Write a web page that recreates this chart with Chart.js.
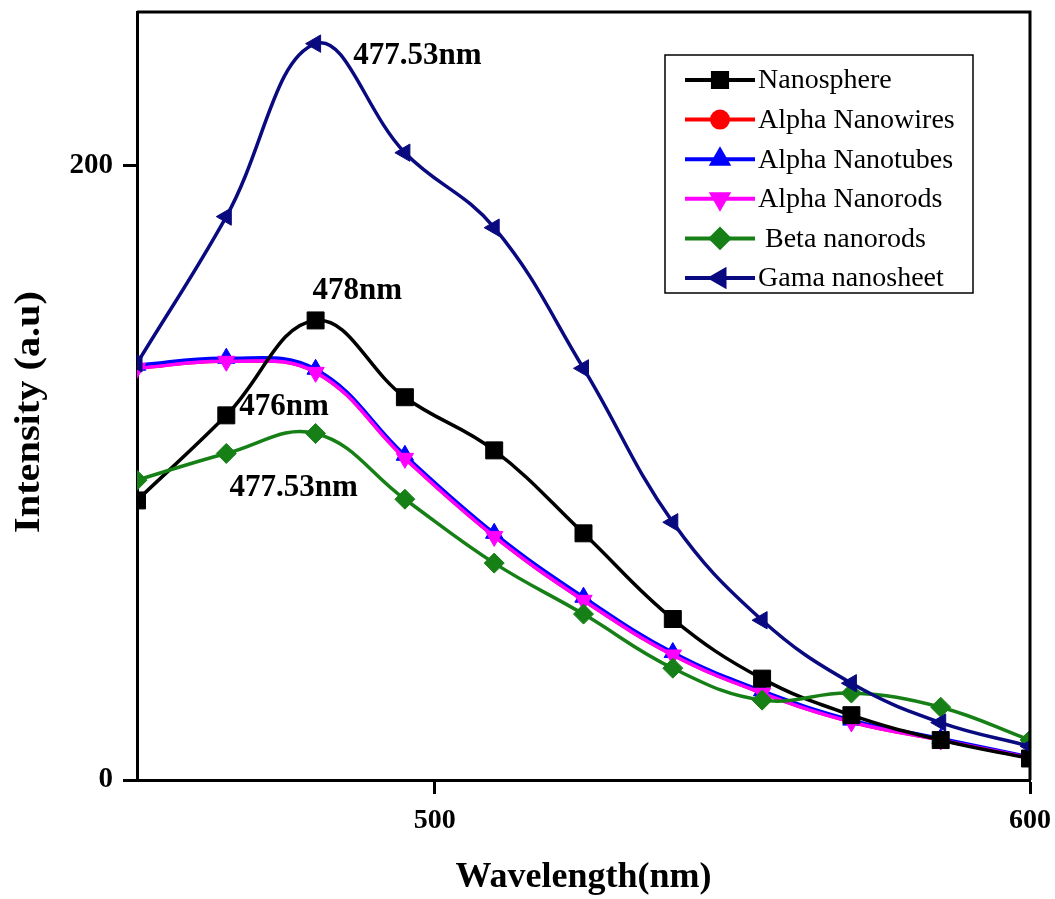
<!DOCTYPE html>
<html>
<head>
<meta charset="utf-8">
<title>PL spectra</title>
<script src="https://cdn.jsdelivr.net/npm/chart.js@4.4.0/dist/chart.umd.min.js"></script>
<style>
  html, body { margin: 0; padding: 0; background: #fff; }
  #wrap { width: 1055px; height: 899px; }
</style>
</head>
<body>
<div id="wrap"><canvas id="plChart" width="1055" height="899"></canvas></div>
<script>
// Wavelength grid (nm)
const wavelength = [450, 465, 480, 495, 510, 525, 540, 555, 570, 585, 600];

// Intensity (a.u) per sample
const nanosphere     = [91, 118.7, 149.6, 124.6, 107.3, 80.3, 52.4, 33.0, 21.1, 13.0, 7.0];
const alphaNanowires = [134, 136.3, 132.7, 104.7, 79.3, 58.5, 40.7, 28.3, 18.9, 13.0, 7.2];
const alphaNanotubes = [135, 137.3, 133.7, 105.7, 80.3, 59.5, 41.5, 29.0, 19.5, 13.5, 7.5];
const alphaNanorods  = [134, 136.3, 132.7, 104.7, 79.3, 58.5, 40.7, 28.3, 18.9, 13.0, 7.2];
const betaNanorods   = [97.6, 106.3, 112.8, 91.4, 70.6, 54.0, 36.4, 26.0, 28.3, 23.7, 13.0];
const gamaNanosheet  = [135.6, 183.4, 239.7, 204.2, 179.8, 134.0, 83.9, 52.0, 31.5, 18.7, 11.0];

const seriesNames = ['Nanosphere', 'Alpha Nanowires', 'Alpha Nanotubes', 'Alpha Nanorods', ' Beta nanorods', 'Gama nanosheet'];

// Axis ticks
const xTicks = [500, 600];
const yTicks = [0, 200];

// Peak annotations (text, wavelength, intensity)
const peakText = ['477.53nm', '478nm', '476nm', '477.53nm'];
const peakX    = [497.1, 487.0, 474.7, 476.3];
const peakY    = [235.8, 159.3, 121.3, 95.0];

const SERIF = '"Liberation Serif", "Times New Roman", serif';

function toPoints(ys) {
    return ys.map((y, i) => ({ x: wavelength[i], y: y }));
}

const styles = [
    { color: '#000000', pointStyle: 'rect',     rotation: 0,   radius: 12, legendRadius: 10, order: 2 },
    { color: '#ff0000', pointStyle: 'circle',   rotation: 0,   radius: 4,  legendRadius: 8,  order: 5 },
    { color: '#0000ff', pointStyle: 'triangle', rotation: 0,   radius: 10, legendRadius: 9,  order: 4 },
    { color: '#ff00ff', pointStyle: 'triangle', rotation: 180, radius: 10, legendRadius: 9,  order: 3 },
    { color: '#168016', pointStyle: 'rectRot',  rotation: 0,   radius: 10, legendRadius: 9,  order: 1 },
    { color: '#0a0a80', pointStyle: 'triangle', rotation: -90, radius: 10, legendRadius: 9,  order: 0 }
];

const seriesData = [nanosphere, alphaNanowires, alphaNanotubes, alphaNanorods, betaNanorods, gamaNanosheet];

const datasets = seriesData.map((ys, i) => ({
    label: seriesNames[i],
    data: toPoints(ys),
    borderColor: styles[i].color,
    backgroundColor: styles[i].color,
    pointStyle: styles[i].pointStyle,
    pointRotation: styles[i].rotation,
    pointRadius: styles[i].radius,
    pointBorderWidth: 1,
    borderWidth: 3.5,
    tension: 0.4,
    clip: 0,
    order: styles[i].order
}));

// Closes the frame (top + right edges), draws the y title and peak labels
const framePlugin = {
    id: 'frame',
    afterDraw(chart) {
        const { ctx, chartArea: a, scales } = chart;
        ctx.save();
        ctx.strokeStyle = '#000';
        ctx.lineWidth = 3;
        ctx.beginPath();
        ctx.moveTo(a.left, a.top);
        ctx.lineTo(a.right, a.top);
        ctx.lineTo(a.right, a.bottom);
        ctx.stroke();

        ctx.fillStyle = '#000';
        ctx.textAlign = 'center';
        ctx.textBaseline = 'middle';

        // y axis title, stretched a little along the axis
        ctx.save();
        ctx.translate(30, 412);
        ctx.rotate(-Math.PI / 2);
        ctx.scale(1.12, 1);
        ctx.font = 'bold 36px ' + SERIF;
        ctx.fillText('Intensity (a.u)', 0, 0);
        ctx.restore();

        ctx.font = 'bold 31px ' + SERIF;
        peakText.forEach((t, i) => {
            ctx.fillText(t, scales.x.getPixelForValue(peakX[i]), scales.y.getPixelForValue(peakY[i]));
        });
        ctx.restore();
    }
};

// Boxed legend inside the plot area
const boxLegendPlugin = {
    id: 'boxLegend',
    afterDraw(chart) {
        const ctx = chart.ctx;
        const box = { left: 665, top: 55, width: 308, height: 238 };
        ctx.save();
        ctx.fillStyle = '#fff';
        ctx.fillRect(box.left, box.top, box.width, box.height);
        ctx.strokeStyle = '#000';
        ctx.lineWidth = 1.5;
        ctx.strokeRect(box.left, box.top, box.width, box.height);

        chart.data.datasets.forEach((ds, i) => {
            const y = 80 + i * 39.6;
            ctx.strokeStyle = ds.borderColor;
            ctx.lineWidth = 4;
            ctx.beginPath();
            ctx.moveTo(685, y);
            ctx.lineTo(755, y);
            ctx.stroke();
            ctx.fillStyle = ds.backgroundColor;
            Chart.helpers.drawPoint(ctx, {
                pointStyle: ds.pointStyle,
                rotation: ds.pointRotation,
                radius: styles[i].legendRadius,
                borderWidth: 1
            }, 720, y);
            ctx.fillStyle = '#000';
            ctx.font = '28px ' + SERIF;
            ctx.textAlign = 'left';
            ctx.textBaseline = 'middle';
            ctx.fillText(ds.label, 758, y + 1);
        });
        ctx.restore();
    }
};

new Chart(document.getElementById('plChart').getContext('2d'), {
    type: 'line',
    data: { datasets: datasets },
    options: {
        responsive: false,
        animation: false,
        devicePixelRatio: 1,
        layout: { autoPadding: false, padding: { top: 12, right: 25, bottom: 0, left: 0 } },
        plugins: {
            legend: { display: false },
            tooltip: { enabled: false }
        },
        scales: {
            x: {
                type: 'linear',
                min: 450,
                max: 600,
                afterFit: s => { s.height = 119; s.paddingLeft = 0; s.paddingRight = 0; },
                afterBuildTicks: s => { s.ticks = xTicks.map(v => ({ value: v })); },
                border: { display: true, color: '#000', width: 3 },
                grid: { drawOnChartArea: false, drawTicks: true, tickLength: 14, tickColor: '#000', tickWidth: 3 },
                ticks: { color: '#000', padding: 10, maxRotation: 0, font: { family: SERIF, size: 28, weight: 'bold' } },
                title: {
                    display: true,
                    text: 'Wavelength(nm)',
                    color: '#000',
                    padding: { top: 0, bottom: 0 },
                    font: { family: SERIF, size: 36, weight: 'bold' }
                }
            },
            y: {
                min: 0,
                max: 250,
                afterFit: s => { s.width = 137; s.paddingTop = 0; s.paddingBottom = 0; },
                afterBuildTicks: s => { s.ticks = yTicks.map(v => ({ value: v })); },
                border: { display: true, color: '#000', width: 3 },
                grid: { drawOnChartArea: false, drawTicks: true, tickLength: 14, tickColor: '#000', tickWidth: 3 },
                ticks: { color: '#000', padding: 10, font: { family: SERIF, size: 29, weight: 'bold' } }
            }
        }
    },
    plugins: [framePlugin, boxLegendPlugin]
});
</script>
</body>
</html>
